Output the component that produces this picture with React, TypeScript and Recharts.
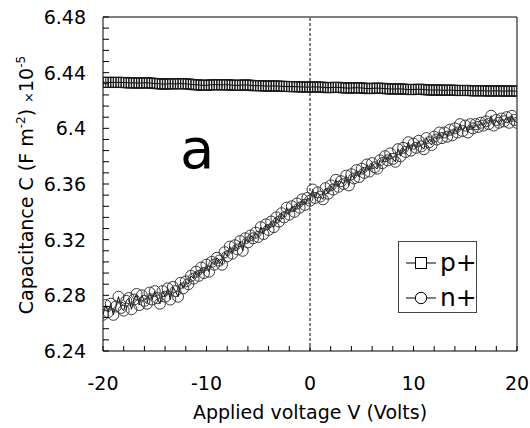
import React from 'react';
import { LineChart, Line, XAxis, YAxis, ReferenceLine, ReferenceDot, Legend, Label } from 'recharts';

const voltage = [
  -20, -19.75, -19.5, -19.25, -19, -18.75, -18.5, -18.25, -18, -17.75, -17.5, -17.25, -17, -16.75, -16.5, -16.25, -16, -15.75, -15.5, -15.25, -15,
  -14.75, -14.5, -14.25, -14, -13.75, -13.5, -13.25, -13, -12.75, -12.5, -12.25, -12, -11.75, -11.5, -11.25, -11, -10.75, -10.5, -10.25, -10,
  -9.75, -9.5, -9.25, -9, -8.75, -8.5, -8.25, -8, -7.75, -7.5, -7.25, -7, -6.75, -6.5, -6.25, -6, -5.75, -5.5, -5.25, -5,
  -4.75, -4.5, -4.25, -4, -3.75, -3.5, -3.25, -3, -2.75, -2.5, -2.25, -2, -1.75, -1.5, -1.25, -1, -0.75, -0.5, -0.25, 0,
  0.25, 0.5, 0.75, 1, 1.25, 1.5, 1.75, 2, 2.25, 2.5, 2.75, 3, 3.25, 3.5, 3.75, 4, 4.25, 4.5, 4.75, 5,
  5.25, 5.5, 5.75, 6, 6.25, 6.5, 6.75, 7, 7.25, 7.5, 7.75, 8, 8.25, 8.5, 8.75, 9, 9.25, 9.5, 9.75, 10,
  10.25, 10.5, 10.75, 11, 11.25, 11.5, 11.75, 12, 12.25, 12.5, 12.75, 13, 13.25, 13.5, 13.75, 14, 14.25, 14.5, 14.75, 15,
  15.25, 15.5, 15.75, 16, 16.25, 16.5, 16.75, 17, 17.25, 17.5, 17.75, 18, 18.25, 18.5, 18.75, 19, 19.25, 19.5, 19.75, 20,
];

const pPlus = [
  6.4330, 6.4331, 6.4330, 6.4329, 6.4330, 6.4331, 6.4330, 6.4329, 6.4330, 6.4328, 6.4327, 6.4326, 6.4327, 6.4326, 6.4325, 6.4326, 6.4327, 6.4328, 6.4326, 6.4324, 6.4322,
  6.4321, 6.4320, 6.4318, 6.4317, 6.4320, 6.4321, 6.4320, 6.4319, 6.4320, 6.4322, 6.4321, 6.4320, 6.4318, 6.4316, 6.4314, 6.4313, 6.4312, 6.4310, 6.4308, 6.4309,
  6.4311, 6.4313, 6.4314, 6.4314, 6.4313, 6.4312, 6.4313, 6.4314, 6.4312, 6.4310, 6.4309, 6.4308, 6.4310, 6.4311, 6.4312, 6.4311, 6.4309, 6.4307, 6.4306, 6.4307,
  6.4306, 6.4305, 6.4304, 6.4303, 6.4304, 6.4305, 6.4304, 6.4303, 6.4302, 6.4301, 6.4301, 6.4300, 6.4300, 6.4299, 6.4299, 6.4298, 6.4297, 6.4297, 6.4296, 6.4296,
  6.4297, 6.4298, 6.4297, 6.4296, 6.4295, 6.4293, 6.4292, 6.4293, 6.4294, 6.4295, 6.4294, 6.4293, 6.4291, 6.4290, 6.4289, 6.4290, 6.4291, 6.4292, 6.4291, 6.4290,
  6.4288, 6.4286, 6.4285, 6.4287, 6.4288, 6.4289, 6.4288, 6.4287, 6.4286, 6.4284, 6.4283, 6.4282, 6.4283, 6.4284, 6.4283, 6.4282, 6.4280, 6.4279, 6.4278, 6.4279,
  6.4280, 6.4281, 6.4280, 6.4279, 6.4277, 6.4276, 6.4275, 6.4275, 6.4276, 6.4275, 6.4274, 6.4273, 6.4274, 6.4275, 6.4274, 6.4273, 6.4272, 6.4271, 6.4272, 6.4273,
  6.4272, 6.4271, 6.4270, 6.4269, 6.4270, 6.4271, 6.4270, 6.4269, 6.4268, 6.4268, 6.4269, 6.4270, 6.4269, 6.4268, 6.4267, 6.4268, 6.4269, 6.4268, 6.4267, 6.4268,
];

const nPlus = [
  6.266, 6.273, 6.268, 6.274, 6.266, 6.272, 6.279, 6.271, 6.269, 6.276, 6.278, 6.270, 6.277, 6.281, 6.273, 6.280, 6.276, 6.274, 6.282, 6.277, 6.283,
  6.278, 6.274, 6.283, 6.279, 6.285, 6.277, 6.286, 6.283, 6.279, 6.289, 6.285, 6.290, 6.288, 6.294, 6.292, 6.297, 6.294, 6.300, 6.296, 6.302,
  6.297, 6.304, 6.302, 6.307, 6.305, 6.302, 6.311, 6.308, 6.315, 6.310, 6.316, 6.313, 6.319, 6.312, 6.321, 6.318, 6.323, 6.321, 6.325, 6.322,
  6.329, 6.324, 6.331, 6.327, 6.333, 6.329, 6.336, 6.333, 6.339, 6.336, 6.343, 6.338, 6.344, 6.340, 6.346, 6.343, 6.349, 6.345, 6.350, 6.348,
  6.356, 6.350, 6.354, 6.351, 6.349, 6.357, 6.353, 6.359, 6.356, 6.363, 6.358, 6.362, 6.360, 6.366, 6.359, 6.367, 6.364, 6.370, 6.365, 6.371,
  6.368, 6.374, 6.369, 6.375, 6.372, 6.371, 6.377, 6.375, 6.380, 6.377, 6.382, 6.378, 6.376, 6.385, 6.380, 6.386, 6.383, 6.390, 6.384, 6.389,
  6.386, 6.391, 6.387, 6.385, 6.393, 6.390, 6.388, 6.394, 6.392, 6.397, 6.393, 6.397, 6.394, 6.399, 6.395, 6.400, 6.397, 6.403, 6.398, 6.402,
  6.397, 6.403, 6.400, 6.403, 6.401, 6.404, 6.402, 6.405, 6.403, 6.409, 6.402, 6.406, 6.404, 6.407, 6.405, 6.408, 6.404, 6.409, 6.406, 6.404,
];

const xTicks = [-20, -18, -16, -14, -12, -10, -8, -6, -4, -2, 0, 2, 4, 6, 8, 10, 12, 14, 16, 18, 20];
const xLabelled = [-20, -10, 0, 10, 20];
const yTicks = [
  6.24, 6.248, 6.256, 6.264, 6.272, 6.28, 6.288, 6.296, 6.304, 6.312, 6.32, 6.328, 6.336, 6.344, 6.352, 6.36,
  6.368, 6.376, 6.384, 6.392, 6.4, 6.408, 6.416, 6.424, 6.432, 6.44, 6.448, 6.456, 6.464, 6.472, 6.48,
];
const yLabelled = ['6.24', '6.28', '6.32', '6.36', '6.4', '6.44', '6.48'];
const seriesNames = ['p+', 'n+'];

const pData = voltage.map((v, i) => ({ v, c: pPlus[i] }));
const nData = voltage.map((v, i) => ({ v, c: nPlus[i] }));

const FONT = '"DejaVu Sans", sans-serif';

const XTick = (props: any) => {
  const { x, y, payload } = props;
  const show = xLabelled.includes(payload.value);
  return (
    <g>
      <line x1={x} x2={x} y1={y} y2={y - 5} stroke="#000" strokeWidth={1} />
      {show && (
        <text x={x} y={y + 39} textAnchor="middle" fontSize={19} fontFamily={FONT} fill="#000">
          {String(payload.value)}
        </text>
      )}
    </g>
  );
};

const YTick = (props: any) => {
  const { x, y, payload } = props;
  const label = String(Number(Number(payload.value).toFixed(3)));
  const show = yLabelled.includes(label);
  return (
    <g>
      <line x1={x} x2={x + 6} y1={y} y2={y} stroke="#000" strokeWidth={1} />
      {show && (
        <text x={x - 17} y={y + 7} textAnchor="end" fontSize={19} fontFamily={FONT} fill="#000">
          {label}
        </text>
      )}
    </g>
  );
};

const YTitle = (props: any) => {
  const vb = props.viewBox || { x: 0, y: 17, width: 103, height: 334 };
  const cx = vb.x + 33;
  const cy = vb.y + vb.height / 2 + 1;
  return (
    <text
      transform={`translate(${cx},${cy}) rotate(-90)`}
      textAnchor="middle"
      fontSize={19}
      fontFamily={FONT}
      fill="#000"
    >
      <tspan>Capacitance C (F m</tspan>
      <tspan fontSize={12} dy={-8}>-2</tspan>
      <tspan dy={8}>) </tspan>
      <tspan fontSize={13}>×</tspan>
      <tspan>10</tspan>
      <tspan fontSize={12} dy={-8}>-5</tspan>
    </text>
  );
};

const XTitle = (props: any) => {
  const vb = props.viewBox || { x: 103, y: 351, width: 414, height: 77 };
  return (
    <text x={vb.x + vb.width / 2} y={vb.y + 68} textAnchor="middle" fontSize={19} fontFamily={FONT} fill="#000">
      Applied voltage V (Volts)
    </text>
  );
};

const SquareDot = (props: any) => {
  const { cx, cy, index } = props;
  if (cx == null || cy == null) return <g key={`s${index}`} />;
  return <rect key={`s${index}`} x={cx - 5} y={cy - 5} width={10} height={10} fill="none" stroke="#1a1a1a" strokeWidth={1} />;
};

const CircleDot = (props: any) => {
  const { cx, cy, index } = props;
  if (cx == null || cy == null) return <g key={`c${index}`} />;
  return <circle key={`c${index}`} cx={cx} cy={cy} r={5.5} fill="none" stroke="#3a3a3a" strokeWidth={1} />;
};

const LegendBox = () => (
  <svg width={79} height={72} style={{ display: 'block' }}>
    <rect x={0.5} y={0.5} width={78} height={71} fill="#fff" stroke="#444" strokeWidth={1} />
    <line x1={8} x2={38} y1={22} y2={22} stroke="#000" strokeWidth={1} />
    <rect x={17.5} y={16.5} width={11} height={11} fill="#fff" stroke="#000" strokeWidth={1} />
    <text x={42} y={30} fontSize={25} fontFamily={FONT} fill="#000">{seriesNames[0]}</text>
    <line x1={8} x2={38} y1={57} y2={57} stroke="#000" strokeWidth={1} />
    <circle cx={23} cy={57} r={5.7} fill="#fff" stroke="#000" strokeWidth={1} />
    <text x={42} y={65} fontSize={25} fontFamily={FONT} fill="#000">{seriesNames[1]}</text>
  </svg>
);

const LetterA = (props: any) => (
  <text x={props.cx} y={props.cy} textAnchor="middle" fontSize={56} fontFamily={FONT} fill="#000">
    a
  </text>
);

export default function App() {
  return (
    <div style={{ position: 'absolute', left: 0, top: 0, width: 530, height: 428, background: '#fff' }}>
      <LineChart width={530} height={428} margin={{ top: 17, right: 13, bottom: 0, left: 0 }}>
        <XAxis
          type="number"
          dataKey="v"
          domain={[-20, 20]}
          ticks={xTicks}
          interval={0}
          height={77}
          tickSize={0}
          tickMargin={0}
          tickLine={false}
          tick={XTick}
          axisLine={{ stroke: '#000', strokeWidth: 1 }}
          allowDataOverflow
        >
          <Label content={XTitle} />
        </XAxis>
        <YAxis
          type="number"
          dataKey="c"
          domain={[6.24, 6.48]}
          ticks={yTicks}
          interval={0}
          width={103}
          tickSize={0}
          tickMargin={0}
          tickLine={false}
          tick={YTick}
          axisLine={{ stroke: '#000', strokeWidth: 1 }}
          allowDataOverflow
        >
          <Label content={YTitle} />
        </YAxis>
        <ReferenceLine y={6.48} stroke="#000" strokeWidth={1} />
        <ReferenceLine x={20} stroke="#000" strokeWidth={1} />
        <ReferenceLine x={0} stroke="#000" strokeWidth={1} strokeDasharray="3 2" />
        <Line
          data={pData}
          dataKey="c"
          name={seriesNames[0]}
          type="linear"
          stroke="#000"
          strokeWidth={1}
          dot={SquareDot}
          activeDot={false}
          isAnimationActive={false}
        />
        <Line
          data={nData}
          dataKey="c"
          name={seriesNames[1]}
          type="linear"
          stroke="#000"
          strokeWidth={1}
          dot={CircleDot}
          activeDot={false}
          isAnimationActive={false}
        />
        <ReferenceDot x={-10.9} y={6.3715} r={1} shape={LetterA} ifOverflow="visible" />
        <Legend
          layout="vertical"
          align="center"
          verticalAlign="middle"
          content={LegendBox}
          wrapperStyle={{ position: 'absolute', left: 398, top: 241, width: 79, height: 72 }}
        />
      </LineChart>
    </div>
  );
}
